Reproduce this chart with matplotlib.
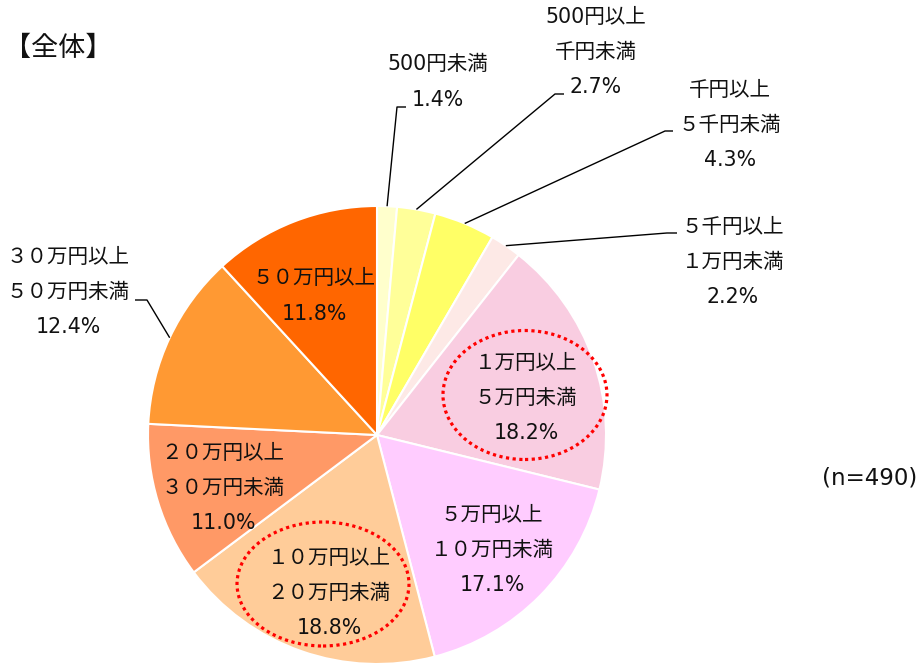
import numpy as np
import matplotlib.pyplot as plt
from matplotlib.patches import Ellipse

# 英数字は DejaVu、かなと漢字は Noto CJK で描く
plt.rcParams['font.family'] = ['DejaVu Sans', 'Noto Sans CJK JP']

# 支出額の区分（上から時計回り）と割合（%）
categories = ['500円未満', '500円以上\n千円未満', '千円以上\n５千円未満', '５千円以上\n１万円未満',
              '１万円以上\n５万円未満', '５万円以上\n１０万円未満', '１０万円以上\n２０万円未満',
              '２０万円以上\n３０万円未満', '３０万円以上\n５０万円未満', '５０万円以上']
shares = [1.4, 2.7, 4.3, 2.2, 18.2, 17.1, 18.8, 11.0, 12.4, 11.8]
colors = ['#FFFFCC', '#FFFF99', '#FFFF66', '#FDE9E6', '#F9CDE1',
          '#FFCCFF', '#FFCC99', '#FF9966', '#FF9933', '#FF6600']
sample_size = 490
highlight = [4, 6]  # 点線で囲む区分

W, H = 918, 664
CX, CY, R = 377, 435, 229


def Y(y):
    # 画面座標（上から）をデータ座標に変換
    return H - y


def put_lines(ax, x, y, lines, size=14.8, gap=35):
    top = y - gap * (len(lines) - 1) / 2
    for i, s in enumerate(lines):
        ax.text(x, Y(top + i * gap), s, ha='center', va='center', fontsize=size, color='#111111')


fig = plt.figure(figsize=(W / 100, H / 100), dpi=100)
ax = fig.add_axes([0, 0, 1, 1])

wedges, _ = ax.pie(shares, colors=colors, startangle=90, counterclock=False,
                   center=(CX, Y(CY)), radius=R,
                   wedgeprops=dict(edgecolor='white', linewidth=1.5))
ax.set_xlim(0, W)
ax.set_ylim(0, H)
ax.set_aspect('auto')
ax.axis('off')

labels = [c.split('\n') + [f'{v:.1f}%'] for c, v in zip(categories, shares)]

# 外側ラベル: (区分, 文字中心, 折れ点, 線の終点)
outside = [
    (0, (438, 82), (397, 107), (406, 107)),
    (1, (596, 52), (555, 94), (564, 94)),
    (2, (730, 125), (665, 131), (673, 131)),
    (3, (733, 262), (667, 233), (677, 233)),
    (8, (68, 292), (147, 300), (135, 300)),
]
for i, (tx, ty), (ex, ey), (lx, ly) in outside:
    w = wedges[i]
    mid = np.deg2rad((w.theta1 + w.theta2) / 2)
    sx, sy = CX + R * np.cos(mid), Y(CY) + R * np.sin(mid)
    ax.plot([sx, ex, lx], [sy, Y(ey), Y(ly)], color='black', lw=1.0, solid_capstyle='butt')
    put_lines(ax, tx, ty, labels[i])

# 内側ラベル
inside = {9: (314, 296), 4: (526, 398), 5: (492, 550), 7: (223, 488), 6: (329, 593)}
for i, (tx, ty) in inside.items():
    put_lines(ax, tx, ty, labels[i])

# 注目区分を赤い点線で囲む
rings = {4: (525, 395, 164, 129), 6: (323, 584, 172, 124)}
for i in highlight:
    ex, ey, ew, eh = rings[i]
    ax.add_patch(Ellipse((ex, Y(ey)), ew, eh, fill=False, edgecolor='#FF0000',
                         lw=2.3, linestyle=(0, (1, 1.1))))

ax.text(4, Y(48), '【全体】', ha='left', va='center', fontsize=19.5, color='#111111',
        family=['Noto Sans CJK JP'])
ax.text(822, Y(478), f'(n={sample_size})', ha='left', va='center', fontsize=16.5, color='#111111')

fig.savefig('out.png', dpi=100)
